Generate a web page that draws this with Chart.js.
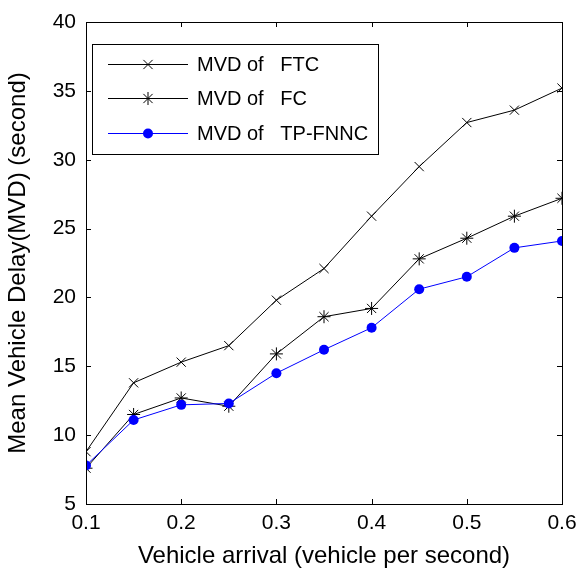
<!DOCTYPE html>
<html>
<head>
<meta charset="utf-8">
<script src="https://cdn.jsdelivr.net/npm/chart.js@4"></script>
<style>
  html, body { margin: 0; padding: 0; background: #fff; }
  #wrap { width: 580px; height: 570px; }
</style>
</head>
<body>
<div id="wrap"><canvas id="mvdChart" width="580" height="570"></canvas></div>
<script>
// vehicle arrival rate (vehicle per second)
const arrival = [0.1, 0.15, 0.2, 0.25, 0.3, 0.35, 0.4, 0.45, 0.5, 0.55, 0.6];
const mvdFTC = [8.8, 13.8, 15.3, 16.5, 19.8, 22.1, 25.9, 29.5, 32.7, 33.6, 35.2];
const mvdFC = [7.6, 11.5, 12.7, 12.1, 15.9, 18.6, 19.2, 22.8, 24.3, 25.9, 27.2];
const mvdTPFNNC = [7.8, 11.1, 12.2, 12.3, 14.5, 16.2, 17.8, 20.6, 21.5, 23.6, 24.1];
const seriesNames = ["MVD of   FTC", "MVD of   FC", "MVD of   TP-FNNC"];
const xTicks = [0.1, 0.2, 0.3, 0.4, 0.5, 0.6];
const yTicks = [5, 10, 15, 20, 25, 30, 35, 40];

const FONT = "'Liberation Sans', Arial, sans-serif";

function toPoints(ys) {
  return arrival.map((x, i) => ({ x: x, y: ys[i] }));
}

// box round the plot with inward ticks on all four sides
const frame = {
  id: "frame",
  afterDatasetsDraw(chart) {
    const { ctx, chartArea: a, scales } = chart;
    ctx.save();
    ctx.strokeStyle = "#000";
    ctx.lineWidth = 1;
    ctx.strokeRect(a.left + 0.5, a.top + 0.5, a.right - a.left, a.bottom - a.top);
    ctx.beginPath();
    const len = 5;
    xTicks.forEach(v => {
      const px = Math.round(scales.x.getPixelForValue(v)) + 0.5;
      ctx.moveTo(px, a.bottom); ctx.lineTo(px, a.bottom - len);
      ctx.moveTo(px, a.top); ctx.lineTo(px, a.top + len);
    });
    yTicks.forEach(v => {
      const py = Math.round(scales.y.getPixelForValue(v)) + 0.5;
      ctx.moveTo(a.left, py); ctx.lineTo(a.left + len, py);
      ctx.moveTo(a.right, py); ctx.lineTo(a.right - len, py);
    });
    ctx.stroke();
    ctx.restore();
  }
};

function drawMarker(ctx, style, x, y, r) {
  ctx.beginPath();
  if (style === "circle") {
    ctx.arc(x, y, r, 0, Math.PI * 2);
    ctx.fill();
    return;
  }
  const d = r * Math.SQRT1_2;
  ctx.moveTo(x - d, y - d); ctx.lineTo(x + d, y + d);
  ctx.moveTo(x - d, y + d); ctx.lineTo(x + d, y - d);
  if (style === "star") {
    ctx.moveTo(x - r, y); ctx.lineTo(x + r, y);
    ctx.moveTo(x, y - r); ctx.lineTo(x, y + r);
  }
  ctx.stroke();
}

// legend box inside the plot, upper left
const boxLegend = {
  id: "boxLegend",
  afterDraw(chart) {
    const ctx = chart.ctx;
    const left = 92, top = 44, right = 378, bottom = 154;
    const rows = [64, 98, 133];
    ctx.save();
    ctx.fillStyle = "#fff";
    ctx.fillRect(left, top, right - left, bottom - top);
    ctx.strokeStyle = "#000";
    ctx.lineWidth = 1;
    ctx.strokeRect(left + 0.5, top + 0.5, right - left, bottom - top);
    chart.data.datasets.forEach((ds, i) => {
      const y = rows[i] + 0.5;
      ctx.strokeStyle = ds.borderColor;
      ctx.fillStyle = ds.borderColor;
      ctx.lineWidth = 1;
      ctx.beginPath();
      ctx.moveTo(108, y); ctx.lineTo(188, y);
      ctx.stroke();
      drawMarker(ctx, ds.pointStyle, 148, y, ds.pointRadius);
      ctx.fillStyle = "#000";
      ctx.font = "20px " + FONT;
      ctx.textBaseline = "middle";
      ctx.textAlign = "left";
      ctx.fillText(ds.label, 197, rows[i] + 1);
    });
    ctx.restore();
  }
};

new Chart(document.getElementById("mvdChart").getContext("2d"), {
  type: "line",
  data: {
    datasets: [
      {
        label: seriesNames[0],
        data: toPoints(mvdFTC),
        borderColor: "#000000",
        backgroundColor: "#000000",
        borderWidth: 1,
        pointStyle: "crossRot",
        pointRadius: 6.5,
        pointBorderWidth: 1,
        order: 3
      },
      {
        label: seriesNames[1],
        data: toPoints(mvdFC),
        borderColor: "#000000",
        backgroundColor: "#000000",
        borderWidth: 1,
        pointStyle: "star",
        pointRadius: 6.5,
        pointBorderWidth: 1,
        order: 2
      },
      {
        label: seriesNames[2],
        data: toPoints(mvdTPFNNC),
        borderColor: "#0000ff",
        backgroundColor: "#0000ff",
        borderWidth: 1,
        pointStyle: "circle",
        pointRadius: 5,
        pointBorderWidth: 0,
        order: 1
      }
    ]
  },
  options: {
    responsive: false,
    animation: false,
    layout: { padding: { top: 22, right: 18, left: 0, bottom: 0 } },
    plugins: {
      legend: { display: false },
      tooltip: { enabled: false }
    },
    scales: {
      x: {
        type: "linear",
        min: 0.1,
        max: 0.6,
        afterBuildTicks(scale) {
          scale.ticks = xTicks.map(v => ({ value: v }));
        },
        afterFit(scale) {
          scale.height = 66;
          scale.paddingLeft = 0;
          scale.paddingRight = 0;
        },
        grid: { display: false, drawTicks: false },
        border: { display: false },
        ticks: {
          color: "#000",
          padding: 7,
          maxRotation: 0,
          font: { family: FONT, size: 21 },
          callback: v => v.toFixed(1)
        },
        title: {
          display: true,
          text: "Vehicle arrival (vehicle per second)",
          color: "#000",
          font: { family: FONT, size: 24 },
          padding: { top: 0, bottom: -1 }
        }
      },
      y: {
        min: 5,
        max: 40,
        afterBuildTicks(scale) {
          scale.ticks = yTicks.map(v => ({ value: v }));
        },
        afterFit(scale) {
          scale.width = 86;
          scale.paddingTop = 0;
          scale.paddingBottom = 0;
        },
        grid: { display: false, drawTicks: false },
        border: { display: false },
        ticks: {
          color: "#000",
          padding: 10,
          font: { family: FONT, size: 21 }
        },
        title: {
          display: true,
          text: "Mean Vehicle Delay(MVD) (second)",
          color: "#000",
          font: { family: FONT, size: 24 },
          padding: { top: 4, bottom: 0 }
        }
      }
    }
  },
  plugins: [frame, boxLegend]
});
</script>
</body>
</html>
